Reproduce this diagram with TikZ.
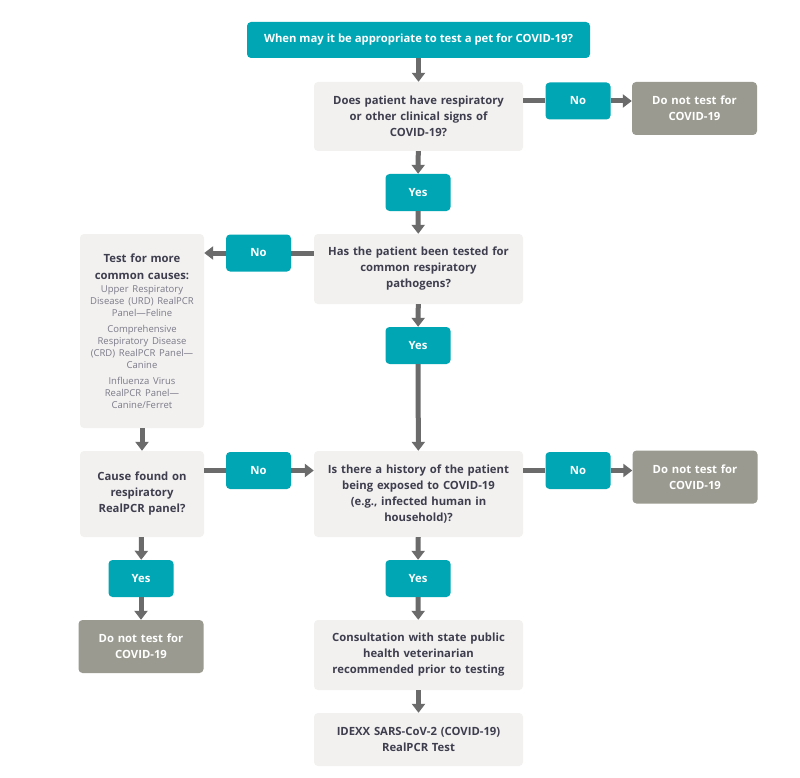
\documentclass[tikz,border=0pt]{standalone}
\usepackage{fontspec}
\setmainfont{Open Sans}
\usetikzlibrary{arrows.meta}
\definecolor{teal1}{HTML}{00A6B4}
\definecolor{lightbox}{HTML}{F2F1F0}
\definecolor{darkbox}{HTML}{9A9A90}
\definecolor{arrowc}{HTML}{6B6B6B}
\definecolor{txt}{HTML}{3E3E4E}
\definecolor{smalltxt}{HTML}{7C7A88}
\begin{document}
\begin{tikzpicture}[x=1pt,y=-1pt,
 base/.style={rounded corners=4pt, inner sep=2pt, align=center, font=\bfseries\fontsize{11.3}{16}\selectfont},
 tealbox/.style={base, fill=teal1, text=white, minimum width=65pt, minimum height=37pt},
 qbox/.style={base, fill=lightbox, text=txt, minimum width=209pt, text width=203pt},
 sidebox/.style={base, fill=lightbox, text=txt, minimum width=124pt, text width=120pt},
 stopbox/.style={base, fill=darkbox, text=white, minimum width=125pt, minimum height=53pt, text width=120pt},
 line/.style={draw=arrowc, line width=5pt},
 arr/.style={line, -{Triangle[width=13pt,length=9pt]}}]
\useasboundingbox (0,0) rectangle (800,778);
\fill[white] (0,0) rectangle (800,778);

\node[base, fill=teal1, text=white, minimum width=343pt, minimum height=36pt] (title) at (418.5,40) {When may it be appropriate to test a pet for COVID-19?};

\node[qbox, minimum height=69pt] (q1) at (418.5,116.5) {Does patient have respiratory\\or other clinical signs of\\COVID-19?};
\node[tealbox] (no1) at (578,101) {No};
\node[stopbox] (dn1) at (694.5,108.5) {Do not test for\\COVID-19};
\node[tealbox] (yes1) at (418,192.5) {Yes};

\node[qbox, minimum height=70pt] (q2) at (418.5,269) {Has the patient been tested for\\common respiratory\\pathogens?};
\node[tealbox] (no2) at (258.5,253) {No};
\node[sidebox, minimum height=194pt] (test) at (142,331) {\fontsize{11.3}{17}\selectfont Test for more\\common causes:\par
 \vspace{1pt}{\mdseries\color{smalltxt}\fontsize{9.5}{12}\selectfont Upper Respiratory\\Disease (URD) RealPCR\\Panel---Feline\\[4pt]
 Comprehensive\\Respiratory Disease\\(CRD) RealPCR Panel---\\Canine\\[4pt]
 Influenza Virus\\RealPCR Panel---\\Canine/Ferret\par}};
\node[tealbox] (yes2) at (418,345.5) {Yes};

\node[qbox, minimum height=86pt] (q3) at (418.5,494) {Is there a history of the patient\\being exposed to COVID-19\\(e.g., infected human in\\household)?};
\node[sidebox, minimum height=86pt] (cause) at (142,494) {Cause found on\\respiratory\\RealPCR panel?};
\node[tealbox] (no3) at (258.5,470.5) {No};
\node[tealbox] (no4) at (578,470.5) {No};
\node[stopbox] (dn3) at (695,477) {Do not test for\\COVID-19};
\node[tealbox] (yes3) at (141,578.5) {Yes};
\node[tealbox] (yes4) at (418,578.5) {Yes};
\node[stopbox] (dn2) at (141,646.5) {Do not test for\\COVID-19};

\node[qbox, minimum height=70pt] (cons) at (418.5,655) {Consultation with state public\\health veterinarian\\recommended prior to testing};
\node[qbox, minimum height=53pt] (idexx) at (418.5,739.5) {IDEXX SARS-CoV-2 (COVID-19)\\RealPCR Test};

\draw[arr] (title) -- (q1);
\draw[line] (q1.east |- no1) -- (no1);
\draw[arr] (no1) -- (dn1.west |- no1);
\draw[arr] (q1) -- (yes1);
\draw[arr] (yes1) -- (q2);
\draw[line] (q2.west |- no2) -- (no2);
\draw[arr] (no2) -- (test.east |- no2);
\draw[arr] (q2) -- (yes2);
\draw[arr] (yes2) -- (q3);
\draw[arr] (test) -- (cause);
\draw[line] (cause.east |- no3) -- (no3);
\draw[arr] (no3) -- (q3.west |- no3);
\draw[line] (q3.east |- no4) -- (no4);
\draw[arr] (no4) -- (dn3.west |- no4);
\draw[arr] (cause) -- (yes3);
\draw[arr] (yes3) -- (dn2);
\draw[arr] (q3) -- (yes4);
\draw[arr] (yes4) -- (cons);
\draw[arr] (cons) -- (idexx);
\end{tikzpicture}
\end{document}
